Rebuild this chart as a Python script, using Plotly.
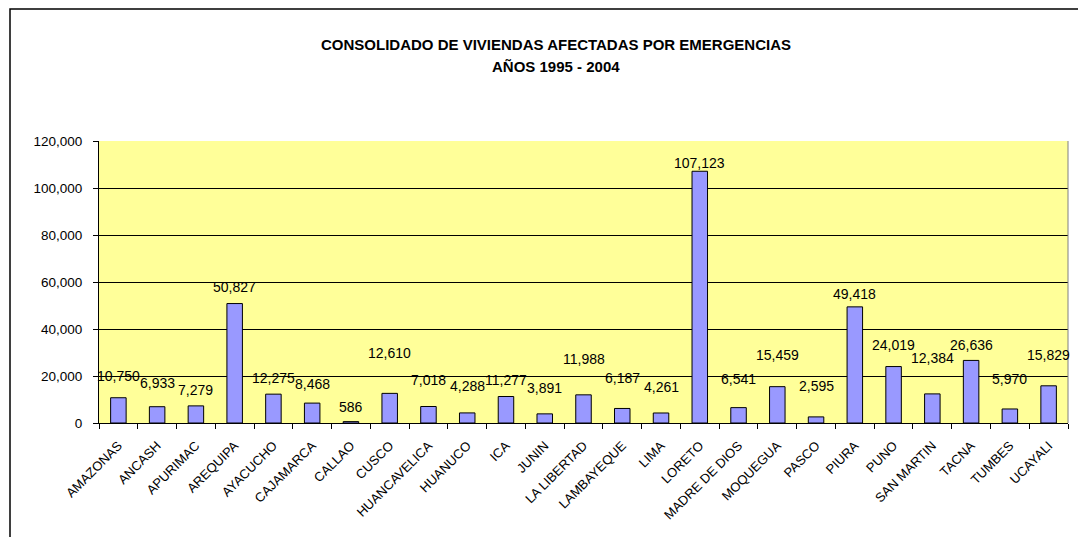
import plotly.graph_objects as go

departments = ["AMAZONAS", "ANCASH", "APURIMAC", "AREQUIPA", "AYACUCHO", "CAJAMARCA",
               "CALLAO", "CUSCO", "HUANCAVELICA", "HUANUCO", "ICA", "JUNIN",
               "LA LIBERTAD", "LAMBAYEQUE", "LIMA", "LORETO", "MADRE DE DIOS",
               "MOQUEGUA", "PASCO", "PIURA", "PUNO", "SAN MARTIN", "TACNA",
               "TUMBES", "UCAYALI"]
viviendas = [10750, 6933, 7279, 50827, 12275, 8468, 586, 12610, 7018, 4288, 11277,
             3891, 11988, 6187, 4261, 107123, 6541, 15459, 2595, 49418, 24019,
             12384, 26636, 5970, 15829]
y_ticks = [0, 20000, 40000, 60000, 80000, 100000, 120000]
title_line1 = "CONSOLIDADO DE VIVIENDAS AFECTADAS POR EMERGENCIAS"
title_line2 = "AÑOS 1995 - 2004"

# style: vertical offset (px) of each data label above its bar (manual placement as in source)
label_shift = [22, 24, 16, 17, 16, 19, 15, 40, 27, 27, 17, 26, 36, 30, 26, 8, 29, 32,
               31, 13, 22, 36, 15, 30, 31]

OFF = 8  # page body margin
W, H = 1086 - OFF, 537 - OFF
PL, PR, PT, PB = 99, 1068, 141, 423  # plot area in page pixels
ML, MR, MT, MB = PL - OFF, W - (PR - OFF), PT - OFF, H - (PB - OFF)
pw, ph = PR - PL, PB - PT

def px(xp):
    return (xp - PL) / pw

def py(yp):
    return (PB - yp) / ph

FONT = "Arial, Liberation Sans"

fig = go.Figure()
fig.add_trace(go.Bar(
    x=departments, y=viviendas,
    marker=dict(color="#9999FF", line=dict(color="#000000", width=1)),
    width=0.4, hoverinfo="x+y",
))

for d, v, s in zip(departments, viviendas, label_shift):
    fig.add_annotation(x=d, y=v, text=f"{v:,}", showarrow=False, yanchor="middle",
                       yshift=s, font=dict(family=FONT, size=14, color="#000000"))

fig.add_annotation(xref="paper", yref="paper", x=px(556), y=py(44),
                   text=f"<b>{title_line1}</b>", showarrow=False, yanchor="middle", xanchor="center",
                   font=dict(family=FONT, size=15, color="#000000"))
fig.add_annotation(xref="paper", yref="paper", x=px(556), y=py(67),
                   text=f"<b>{title_line2}</b>", showarrow=False, yanchor="middle", xanchor="center",
                   font=dict(family=FONT, size=15, color="#000000"))

# outer chart frame
fig.add_shape(type="rect", xref="paper", yref="paper",
              x0=px(10), x1=px(1100), y0=py(560), y1=py(9),
              line=dict(color="#000000", width=1.5), fillcolor="rgba(0,0,0,0)", layer="below")
# right plot border (gray)
fig.add_shape(type="line", xref="paper", yref="paper", x0=1, x1=1, y0=0, y1=1,
              line=dict(color="#808080", width=1))

fig.update_layout(
    width=W, height=H,
    margin=dict(l=ML, r=MR, t=MT, b=MB),
    paper_bgcolor="#FFFFFF", plot_bgcolor="#FFFF99",
    showlegend=False, bargap=0.6,
    font=dict(family=FONT, color="#000000"),
)
fig.update_xaxes(
    type="category", tickangle=-45, tickfont=dict(size=13, family=FONT), ticklabelstandoff=9,
    showline=True, linecolor="#000000", linewidth=1,
    ticks="outside", ticklen=5, tickcolor="#000000", tickson="boundaries",
    showgrid=False, range=[-0.5, len(departments) - 0.5],
)
fig.update_yaxes(
    range=[0, 120000], tickvals=y_ticks, tickformat=",",
    tickfont=dict(size=13.5, family=FONT), ticklabelstandoff=8,
    showline=True, linecolor="#000000", linewidth=1,
    ticks="outside", ticklen=5, tickcolor="#000000",
    showgrid=True, gridcolor="#000000", gridwidth=1, zeroline=False,
)

fig.write_html("out.html")
